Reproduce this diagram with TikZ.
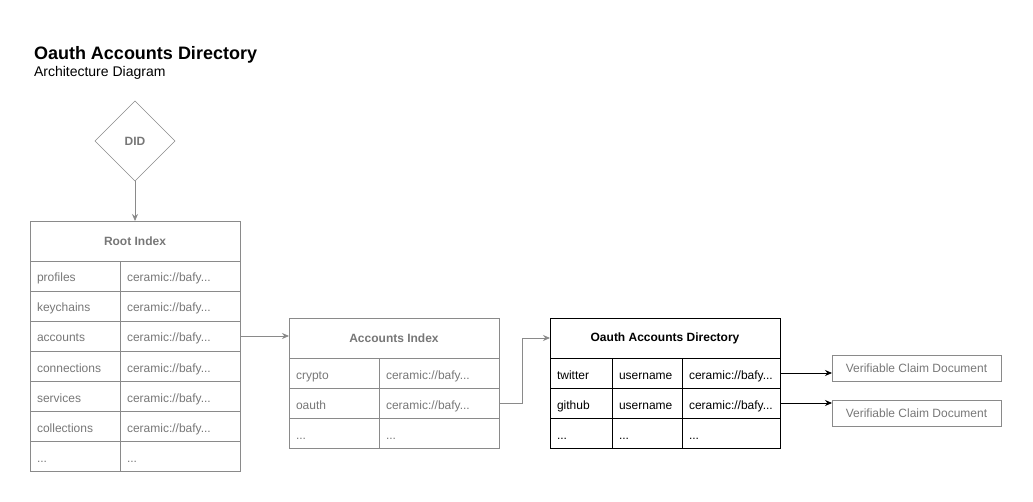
\documentclass[tikz,border=0pt]{standalone}
\usepackage{fontspec}
\setmainfont{Liberation Sans}
\usepackage{tikz}
\usetikzlibrary{arrows.meta, positioning, shapes.geometric}
\definecolor{linegray}{HTML}{8A8A8A}
\definecolor{txtgray}{HTML}{777777}

\begin{document}
\begin{tikzpicture}[
  x=1pt, y=-1pt,
  every node/.style={font=\fontsize{12}{14}\selectfont, outer sep=0pt},
  cell/.style={rectangle, draw=linegray, text=txtgray, inner ysep=0pt, inner xsep=7pt,
               minimum height=30pt, align=left, text height=13pt, text depth=1pt},
  head/.style={rectangle, draw=linegray, text=txtgray, anchor=north west,
               minimum height=40pt, font=\fontsize{12}{14}\selectfont\bfseries},
  keycol/.style={cell, text width=76pt},
  valcol/.style={cell, text width=106pt},
  dark/.style={draw=black, text=black},
  claim/.style={rectangle, draw=linegray, text=txtgray, anchor=north west,
                minimum width=169pt, minimum height=26pt, inner sep=0pt},
  garrow/.style={-{Stealth[length=7pt, width=6pt]}, linegray, line width=0.8pt},
  barrow/.style={-{Stealth[length=7pt, width=6pt]}, black, line width=0.8pt}
]
  \useasboundingbox (0,0) rectangle (1033,502);

  % title
  \node[anchor=base west, inner sep=0pt, font=\fontsize{18}{21}\selectfont\bfseries] (title) at (34,60) {Oauth Accounts Directory};
  \node[anchor=base west, inner sep=0pt, font=\fontsize{14}{16}\selectfont] (subtitle) at (34,77) {Architecture Diagram};

  % DID
  \node[diamond, draw=linegray, text=txtgray, minimum width=80pt, minimum height=80pt, inner sep=0pt,
        font=\fontsize{12}{14}\selectfont\bfseries] (did) at (135,141) {DID};

  % Root Index
  \node[head, minimum width=210pt] (root) at (30,221) {Root Index};
  \node[keycol, below=0pt of root.south west, anchor=north west] (r1k) {profiles};
  \node[valcol, right=0pt of r1k] (r1v) {ceramic://bafy...};
  \node[keycol, below=0pt of r1k] (r2k) {keychains};
  \node[valcol, right=0pt of r2k] (r2v) {ceramic://bafy...};
  \node[keycol, below=0pt of r2k] (r3k) {accounts};
  \node[valcol, right=0pt of r3k] (r3v) {ceramic://bafy...};
  \node[keycol, below=0pt of r3k] (r4k) {connections};
  \node[valcol, right=0pt of r4k] (r4v) {ceramic://bafy...};
  \node[keycol, below=0pt of r4k] (r5k) {services};
  \node[valcol, right=0pt of r5k] (r5v) {ceramic://bafy...};
  \node[keycol, below=0pt of r5k] (r6k) {collections};
  \node[valcol, right=0pt of r6k] (r6v) {ceramic://bafy...};
  \node[keycol, below=0pt of r6k] (r7k) {...};
  \node[valcol, right=0pt of r7k] (r7v) {...};

  % Accounts Index
  \node[head, minimum width=210pt] (acc) at (289,318) {Accounts Index};
  \node[keycol, below=0pt of acc.south west, anchor=north west] (a1k) {crypto};
  \node[valcol, right=0pt of a1k] (a1v) {ceramic://bafy...};
  \node[keycol, below=0pt of a1k] (a2k) {oauth};
  \node[valcol, right=0pt of a2k] (a2v) {ceramic://bafy...};
  \node[keycol, below=0pt of a2k] (a3k) {...};
  \node[valcol, right=0pt of a3k] (a3v) {...};

  % Oauth Accounts Directory
  \node[head, dark, minimum width=230pt] (oauth) at (550,318) {Oauth Accounts Directory};
  \node[cell, dark, text width=48pt, below=0pt of oauth.south west, anchor=north west] (o1a) {twitter};
  \node[cell, dark, text width=56pt, right=0pt of o1a] (o1b) {username};
  \node[cell, dark, text width=84pt, right=0pt of o1b] (o1c) {ceramic://bafy...};
  \node[cell, dark, text width=48pt, below=0pt of o1a] (o2a) {github};
  \node[cell, dark, text width=56pt, right=0pt of o2a] (o2b) {username};
  \node[cell, dark, text width=84pt, right=0pt of o2b] (o2c) {ceramic://bafy...};
  \node[cell, dark, text width=48pt, below=0pt of o2a] (o3a) {...};
  \node[cell, dark, text width=56pt, right=0pt of o3a] (o3b) {...};
  \node[cell, dark, text width=84pt, right=0pt of o3b] (o3c) {...};

  % claims
  \node[claim] (vc1) at (832,355) {Verifiable Claim Document};
  \node[claim] (vc2) at (832,400) {Verifiable Claim Document};

  \draw[garrow] (did.south) -- (root.north);
  \draw[garrow] (r3v.east) -- (r3v.east -| acc.west);
  \draw[garrow] (a2v.east) -- ++(23,0) |- (oauth.west);
  \draw[barrow] (o1c.east) -- (o1c.east -| vc1.west);
  \draw[barrow] (o2c.east) -- (o2c.east -| vc2.west);
\end{tikzpicture}
\end{document}
